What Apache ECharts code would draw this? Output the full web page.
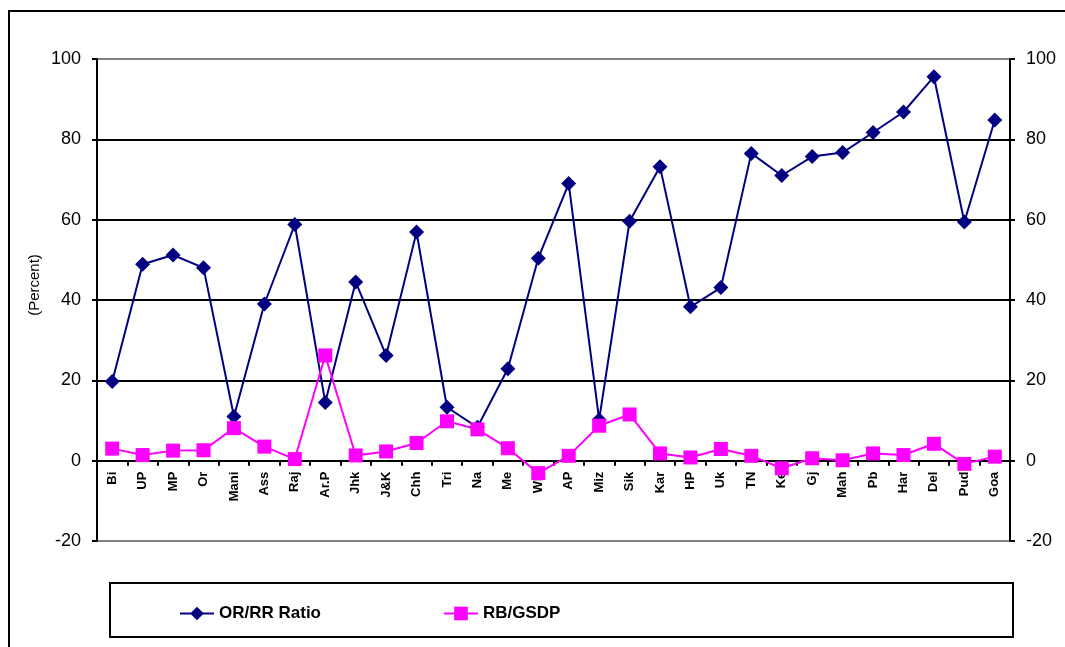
<!DOCTYPE html>
<html>
<head>
<meta charset="utf-8">
<script src="https://cdn.jsdelivr.net/npm/echarts@6/dist/echarts.min.js"></script>
<style>
  html, body { margin: 0; padding: 0; background: #fff; }
  #chart { width: 1065px; height: 647px; }
</style>
</head>
<body>
<div id="chart"></div>
<script>
  // states along the x axis
  var states = ['Bi', 'UP', 'MP', 'Or', 'Mani', 'Ass', 'Raj', 'Ar.P', 'Jhk', 'J&K',
    'Chh', 'Tri', 'Na', 'Me', 'WB', 'AP', 'Miz', 'Sik', 'Kar', 'HP',
    'Uk', 'TN', 'Ke', 'Gj', 'Mah', 'Pb', 'Har', 'Del', 'Pud', 'Goa'];
  var orRrRatio = [19.7, 48.9, 51.2, 48.0, 11.0, 39.0, 58.8, 14.5, 44.5, 26.2,
    56.9, 13.3, 8.3, 22.9, 50.4, 69.0, 10.2, 59.6, 73.2, 38.3,
    43.1, 76.5, 71.0, 75.7, 76.7, 81.7, 86.8, 95.6, 59.4, 84.8];
  var rbGsdp = [3.0, 1.4, 2.5, 2.6, 8.1, 3.5, 0.4, 26.2, 1.3, 2.3,
    4.4, 9.8, 7.8, 3.1, -3.1, 1.2, 8.7, 11.5, 1.8, 0.8,
    2.9, 1.2, -1.9, 0.6, 0.1, 1.8, 1.4, 4.2, -0.8, 1.0];
  var yTicks = { min: -20, max: 100, step: 20 };

  var gridTop = 59, gridBottom = 106, chartH = 647;
  var plotH = chartH - gridTop - gridBottom;
  // lift the category axis from the bottom edge up to the zero line
  var zeroLift = plotH * (0 - yTicks.min) / (yTicks.max - yTicks.min);

  var chart = echarts.init(document.getElementById('chart'));

  // -20 and 100 lines are the grey plot border, the rest black
  var gridColors = ['#808080', '#000', '#000', '#000', '#000', '#000', '#808080'];

  function valueAxis(pos, showSplit) {
    return {
      type: 'value',
      position: pos,
      min: yTicks.min,
      max: yTicks.max,
      interval: yTicks.step,
      axisLine: { show: true, onZero: false, lineStyle: { color: '#000', width: 2 } },
      axisTick: { show: true, length: 5, lineStyle: { color: '#000', width: 2 } },
      axisLabel: { color: '#000', fontSize: 18, fontFamily: 'Liberation Sans, Arial', margin: 16 },
      splitLine: { show: showSplit, lineStyle: { color: gridColors, width: 2 } }
    };
  }

  var legendText = { color: '#000', fontSize: 17, fontWeight: 'bold', fontFamily: 'Liberation Sans, Arial' };

  chart.setOption({
    animation: false,
    grid: { left: 97, right: 55, top: gridTop, bottom: gridBottom },
    legend: [
      { data: ['OR/RR Ratio'], left: 174, top: 600, itemWidth: 34, itemHeight: 17, textStyle: legendText },
      { data: ['RB/GSDP'], left: 438, top: 600, itemWidth: 34, itemHeight: 17, textStyle: legendText }
    ],
    graphic: [
      {
        type: 'rect', silent: true,
        shape: { x: 9, y: 11, width: 1200, height: 800 },
        style: { fill: null, stroke: '#000', lineWidth: 2 }
      },
      {
        type: 'rect', silent: true,
        shape: { x: 110, y: 583, width: 903, height: 54 },
        style: { fill: null, stroke: '#000', lineWidth: 2 }
      },
      {
        type: 'text', silent: true,
        x: 35, y: 285, rotation: Math.PI / 2,
        style: {
          text: '(Percent)', fill: '#000', fontSize: 15,
          fontFamily: 'Liberation Sans, Arial', align: 'center', verticalAlign: 'middle'
        }
      }
    ],
    xAxis: {
      type: 'category',
      data: states,
      boundaryGap: true,
      offset: -zeroLift,
      axisLine: { onZero: false, lineStyle: { color: '#000', width: 2 } },
      axisTick: { show: true, alignWithLabel: false, length: 5, lineStyle: { color: '#000', width: 2 } },
      axisLabel: {
        interval: 0, rotate: 90, margin: 11, color: '#000',
        fontSize: 13, fontWeight: 'bold', fontFamily: 'Liberation Sans, Arial'
      },
      splitLine: { show: false }
    },
    yAxis: [valueAxis('left', true), valueAxis('right', false)],
    series: [
      {
        name: 'OR/RR Ratio',
        type: 'line',
        data: orRrRatio,
        symbol: 'diamond',
        symbolSize: 15,
        itemStyle: { color: '#000080' },
        lineStyle: { color: '#000080', width: 2 }
      },
      {
        name: 'RB/GSDP',
        type: 'line',
        data: rbGsdp,
        symbol: 'rect',
        symbolSize: 14,
        itemStyle: { color: '#ff00ff' },
        lineStyle: { color: '#ff00ff', width: 2 }
      }
    ]
  });
</script>
</body>
</html>
